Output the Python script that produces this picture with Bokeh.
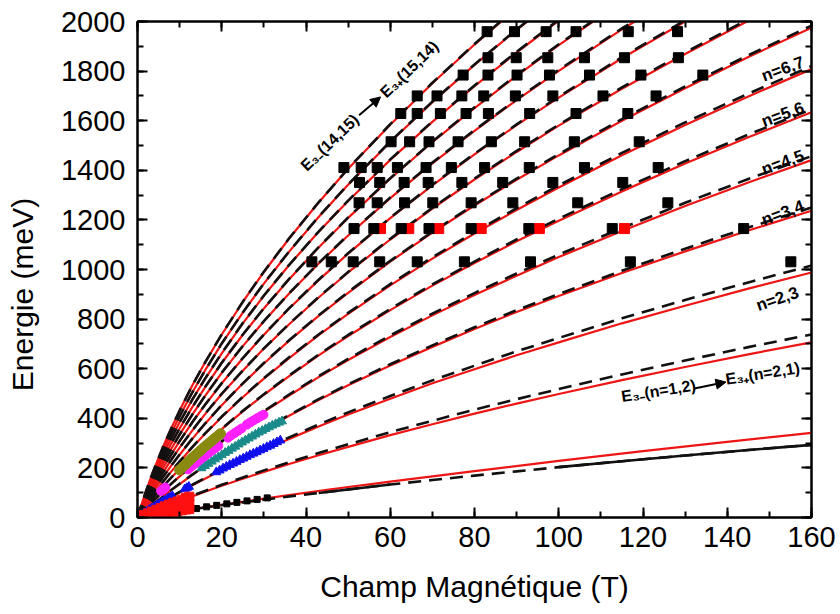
from bokeh.plotting import figure
from bokeh.models import Range1d, LinearAxis, SingleIntervalTicker, Label, Arrow, NormalHead
from bokeh.embed import file_html
from bokeh.resources import INLINE

# ---------------- data ----------------
B_GRID = [0, 0.5, 1, 2, 3, 4, 6, 8, 10, 13, 16, 20, 25, 30, 36, 43, 50, 60, 70, 80, 90, 100, 115, 130, 145, 160]

# black dashed curves, transitions (n, n+1)
dash_01 = [0, 1, 3, 5, 8, 10, 16, 21, 26, 33, 40, 50, 61, 72, 85, 99, 113, 133, 151, 169, 186, 203, 227, 250, 272, 293]
dash_12 = [0, 4, 7, 14, 21, 28, 42, 56, 69, 88, 107, 132, 161, 190, 223, 260, 295, 344, 390, 435, 477, 518, 577, 633, 687, 738]
dash_23 = [0, 6, 11, 22, 33, 43, 64, 84, 103, 132, 159, 195, 237, 277, 323, 375, 424, 490, 553, 612, 670, 724, 803, 877, 948, 1016]
dash_34 = [0, 7, 15, 29, 43, 57, 84, 111, 136, 173, 208, 252, 305, 356, 413, 477, 537, 618, 694, 767, 836, 901, 995, 1084, 1169, 1250]
dash_45 = [0, 9, 18, 37, 54, 71, 104, 136, 167, 211, 253, 307, 370, 429, 496, 570, 640, 734, 822, 905, 984, 1060, 1167, 1269, 1365, 1457]
dash_56 = [0, 11, 22, 44, 65, 85, 124, 161, 197, 248, 297, 358, 430, 497, 573, 657, 736, 841, 940, 1032, 1121, 1205, 1324, 1437, 1544, 1646]
dash_67 = [0, 13, 26, 51, 75, 98, 143, 186, 226, 284, 338, 407, 487, 562, 646, 738, 825, 941, 1049, 1151, 1247, 1339, 1470, 1593, 1709, 1820]
dash_78 = [0, 15, 29, 58, 85, 111, 162, 209, 254, 318, 378, 454, 541, 623, 715, 815, 909, 1035, 1152, 1262, 1366, 1465, 1606, 1738, 1864, 1983]
dash_89 = [0, 17, 33, 65, 95, 124, 180, 232, 282, 351, 417, 499, 593, 682, 781, 889, 990, 1124, 1249, 1367, 1478, 1584, 1734, 1875, 2009]
dash_910 = [0, 19, 37, 72, 105, 137, 198, 254, 308, 384, 454, 542, 643, 738, 844, 959, 1066, 1209, 1342, 1467, 1585, 1697, 1856, 2005]
dash_1011 = [0, 20, 40, 78, 115, 150, 215, 276, 334, 415, 490, 584, 692, 792, 904, 1026, 1139, 1290, 1431, 1562, 1686, 1805, 1972, 2129]
dash_1112 = [0, 22, 44, 85, 124, 162, 232, 298, 359, 445, 525, 624, 738, 844, 962, 1090, 1210, 1368, 1516, 1654, 1784, 1908, 2083]
dash_1213 = [0, 24, 47, 92, 134, 174, 249, 319, 384, 475, 559, 663, 784, 895, 1019, 1153, 1278, 1444, 1597, 1742, 1878, 2007]
dash_1314 = [0, 26, 51, 98, 143, 186, 266, 339, 408, 504, 592, 702, 827, 944, 1073, 1213, 1343, 1516, 1677, 1827, 1968, 2103]
dash_1415 = [0, 28, 54, 105, 153, 198, 282, 359, 431, 532, 624, 739, 870, 991, 1126, 1271, 1407, 1586, 1753, 1909, 2056]

# red solid curves
red01_B = [0, 2, 5, 10, 15, 20, 30, 45, 60, 80, 100, 120, 140, 160]
red_01 = [0, 5, 13, 26, 39, 51, 76, 112, 145, 187, 228, 268, 305, 341]
red_12 = [0, 4, 7, 14, 20, 27, 41, 54, 67, 85, 104, 128, 156, 184, 216, 251, 285, 332, 376, 419, 459, 498, 554, 607, 658, 706]
red_23 = [0, 6, 11, 22, 32, 42, 63, 83, 101, 130, 156, 191, 233, 272, 317, 367, 415, 479, 541, 598, 654, 706, 783, 854, 923, 988]
red_34 = [0, 7, 15, 29, 43, 57, 84, 110, 135, 172, 207, 250, 303, 354, 410, 474, 533, 613, 688, 760, 829, 893, 986, 1073, 1157, 1237]
red_45 = [0, 9, 18, 37, 54, 71, 103, 135, 166, 210, 251, 305, 368, 426, 492, 566, 635, 728, 815, 897, 975, 1050, 1155, 1256, 1351, 1441]
red_56 = [0, 11, 22, 44, 65, 85, 124, 160, 196, 247, 296, 356, 428, 495, 570, 654, 732, 836, 935, 1026, 1114, 1197, 1315, 1427, 1533, 1634]
red_67 = [0, 13, 26, 51, 75, 98, 143, 185, 225, 283, 337, 405, 485, 560, 643, 735, 821, 936, 1044, 1145, 1240, 1331, 1461, 1583, 1698, 1808]
red_78 = [0, 15, 29, 58, 85, 111, 162, 209, 253, 317, 377, 453, 540, 621, 713, 813, 906, 1032, 1149, 1258, 1362, 1460, 1600, 1731, 1857, 1975]
red_89 = [0, 17, 33, 65, 95, 124, 180, 232, 282, 350, 416, 498, 592, 681, 779, 887, 988, 1121, 1246, 1363, 1474, 1580, 1729, 1869, 2003]
red_910 = [0, 19, 37, 72, 105, 137, 198, 254, 308, 384, 453, 541, 642, 737, 843, 957, 1064, 1207, 1339, 1464, 1582, 1693, 1852, 2000]
red_1011 = [0, 20, 40, 78, 115, 150, 215, 276, 334, 415, 489, 583, 691, 791, 903, 1024, 1137, 1288, 1428, 1559, 1683, 1801, 1968, 2124]
red_1112 = [0, 22, 44, 85, 124, 162, 232, 298, 359, 445, 524, 623, 737, 843, 961, 1089, 1208, 1366, 1514, 1651, 1781, 1905, 2079]
red_1213 = [0, 24, 47, 92, 134, 174, 249, 319, 384, 475, 558, 662, 783, 894, 1018, 1152, 1276, 1442, 1595, 1739, 1875, 2004]
red_1314 = [0, 26, 51, 98, 143, 186, 266, 339, 408, 504, 592, 701, 826, 943, 1072, 1212, 1342, 1514, 1675, 1825, 1966, 2100]
red_1415 = [0, 28, 54, 105, 153, 198, 282, 359, 431, 532, 624, 738, 869, 990, 1125, 1270, 1406, 1584, 1751, 1907, 2054]

# large black squares (measured transitions)
sq_B = [83.0, 89.5, 97.0, 104.1, 116.5, 128.2,
        83.2, 89.9, 97.4, 106.1, 115.6, 128.4,
        77.3, 83.2, 90.1, 97.8, 107.3, 119.5, 134.2,
        66.4, 71.1, 77.0, 82.2, 89.7, 98.6, 110.5, 123.1,
        62.5, 66.4, 71.9, 78.0, 83.3, 93.1, 104.1, 116.4,
        60.2, 64.6, 69.2, 76.1, 84.0, 91.9, 103.7, 119.1,
        49.0, 53.1, 56.9, 61.7, 68.5, 74.5, 82.4, 93.0, 106.1, 123.6,
        52.7, 57.5, 63.3, 69.0, 77.0, 86.7, 98.6, 115.2,
        52.6, 56.9, 63.4, 70.1, 79.2, 89.1, 104.5, 125.9,
        51.4, 56.1, 62.6, 69.2, 79.2, 92.9, 112.7, 143.9,
        41.4, 46.0, 51.2, 57.5, 66.4, 77.6, 93.3, 117.0, 155.1]
sq_E = [1959] * 6 + [1854] * 6 + [1784] * 7 + [1700] * 8 + [1629] * 8 + [1515] * 8 + \
       [1411] * 10 + [1351] * 8 + [1269] * 8 + [1165] * 8 + [1031] * 9
# red squares
rsq_B = [57.7, 64.4, 71.5, 81.6, 95.4, 115.6]
rsq_E = [1165, 1165, 1165, 1165, 1165, 1165]

# low-field traces
olive_B = [10.0, 10.7, 11.4, 12.1, 12.8, 13.5, 14.2, 14.9, 15.6, 16.3, 17.0, 17.7, 18.4, 19.1, 19.7]
olive_E = [192, 203, 214, 226, 237, 248, 259, 269, 280, 290, 300, 310, 320, 330, 338]
mag_B = [5.6, 6.1, 6.6, 12.0, 12.8, 13.6, 14.4, 15.2, 16.0, 16.8, 17.6, 18.4, 19.2,
         21.5, 22.3, 23.1, 23.9, 24.7, 26.0, 26.8, 27.6, 28.4, 29.2, 29.9]
mag_E = [107, 114, 121, 194, 205, 216, 227, 238, 248, 259, 269, 279, 289,
         322, 332, 341, 350, 359, 375, 384, 392, 400, 408, 414]
teal_B = [15.2, 16.0, 16.8, 17.6, 18.4, 19.2, 20.0, 20.8, 21.6, 22.4, 23.2, 24.0, 24.8,
          25.6, 26.4, 27.2, 28.0, 28.8, 29.6, 30.4, 31.2, 32.0, 32.8, 33.6, 34.3]
teal_E = [199, 208, 217, 226, 235, 243, 252, 261, 269, 278, 286, 295, 303,
          311, 319, 327, 335, 343, 350, 357, 364, 371, 377, 383, 388]
blue_B = [1.0, 1.6, 2.2, 2.8, 3.4, 4.0, 4.6, 5.2, 5.8, 6.4, 7.0, 7.4, 7.8, 8.3, 11.2, 11.7, 12.2,
          18.7, 19.5, 20.3, 21.1, 21.9, 22.7, 23.5, 24.3, 25.1, 25.9, 26.7, 27.5, 28.3,
          29.1, 29.9, 30.7, 31.5, 32.3, 33.1, 33.9]
blue_E = [11, 18, 24, 31, 37, 43, 50, 56, 62, 68, 74, 78, 81, 86, 114, 119, 124,
          183, 190, 198, 205, 212, 218, 225, 232, 238, 245, 252, 258, 264,
          271, 277, 284, 290, 297, 304, 311]
redpt_B = [1.5, 2.5, 3.5, 4.5, 5.5, 6.5, 7.5, 8.5, 9.5, 10.5, 11.5, 12.3,
           1.5, 2.5, 3.5, 4.5, 5.5, 6.5, 7.5, 8.5, 9.5, 10.5, 11.5, 12.3,
           1.5, 2.5, 3.5, 4.5, 5.5, 6.5, 7.5, 8.5, 9.5, 10.5, 11.5, 12.3]
redpt_E = [10, 17, 24, 31, 38, 45, 52, 59, 65, 72, 79, 84,
           7, 11, 16, 20, 25, 29, 34, 38, 43, 47, 52, 55,
           4, 7, 10, 13, 15, 18, 21, 24, 27, 29, 32, 34]
blk_B = [2, 4.4, 6.8, 9.2, 11.6, 14, 16.4, 18.8, 21.2, 23.6, 26, 28.4, 30.8]
blk_E = [5, 11, 18, 24, 30, 36, 43, 49, 55, 61, 67, 73, 79]

# ---------------- figure ----------------
FONT = "Liberation Sans"
RED = "#ee1515"

p = figure(width=840, height=614, x_range=Range1d(0, 160), y_range=Range1d(0, 2000),
           output_backend="svg", toolbar_location=None,
           min_border_left=137, min_border_right=29, min_border_top=21, min_border_bottom=97,
           background_fill_color="white", border_fill_color="white")
p.grid.visible = False
p.outline_line_color = "black"
p.outline_line_width = 2

xt = SingleIntervalTicker(interval=20, num_minor_ticks=2)
yt = SingleIntervalTicker(interval=200, num_minor_ticks=2)
p.xaxis.ticker = xt
p.yaxis.ticker = yt


def style_axis(ax, labels=True):
    ax.axis_line_width = 2
    ax.axis_line_color = "black"
    ax.major_tick_in = 10
    ax.major_tick_out = 0
    ax.minor_tick_in = 6
    ax.minor_tick_out = 0
    ax.major_tick_line_width = 2
    ax.minor_tick_line_width = 2
    ax.major_tick_line_color = "black"
    ax.minor_tick_line_color = "black"
    if labels:
        ax.major_label_text_font = FONT
        ax.major_label_text_font_size = "29px"
        ax.major_label_text_color = "black"
        ax.axis_label_text_font = FONT
        ax.axis_label_text_font_size = "30px"
        ax.axis_label_text_font_style = "normal"
        ax.axis_label_text_color = "black"
    else:
        ax.major_label_text_font_size = "0px"
        ax.major_label_text_color = None
        ax.major_label_standoff = 0


for ax in p.xaxis:
    style_axis(ax)
    ax.major_label_standoff = 9
    ax.axis_label = "Champ Magnétique (T)"
    ax.axis_label_standoff = 20
for ax in p.yaxis:
    style_axis(ax)
    ax.major_label_standoff = 12
    ax.axis_label = "Energie (meV)" + "\u00a0" * 6
    ax.axis_label_standoff = 19

top_ax = LinearAxis(ticker=xt)
style_axis(top_ax, labels=False)
p.add_layout(top_ax, "above")
right_ax = LinearAxis(ticker=yt)
style_axis(right_ax, labels=False)
p.add_layout(right_ax, "right")

# red solid curves
p.line(red01_B, red_01, line_color=RED, line_width=2.2)
for arr in [red_12, red_23, red_34, red_45, red_56, red_67, red_78, red_89,
            red_910, red_1011, red_1112, red_1213, red_1314, red_1415]:
    p.line(B_GRID[:len(arr)], arr, line_color=RED, line_width=2.2)

# black dashed curves
for arr in [dash_01, dash_12, dash_23, dash_34, dash_45, dash_56, dash_67, dash_78, dash_89,
            dash_910, dash_1011, dash_1112, dash_1213, dash_1314, dash_1415]:
    p.line(B_GRID[:len(arr)], arr, line_color="#111111", line_width=2.6, line_dash="13 8")
# solid portions of the lowest black curve
p.line(B_GRID[15:18], dash_01[15:18], line_color="#111111", line_width=2.6)
p.line(B_GRID[21:], dash_01[21:], line_color="#111111", line_width=2.6)

# low-field traces
p.scatter(blk_B, blk_E, marker="square", size=6, color="black")
p.scatter(blue_B, blue_E, marker="triangle", size=9, color="#1010ee")
p.scatter(redpt_B, redpt_E, marker="square", size=9, color="#ff1010")
p.scatter(teal_B, teal_E, marker="triangle", size=9, color="#1a8a8a")
p.scatter(mag_B, mag_E, marker="circle", size=9, color="#ff20ff")
p.scatter(olive_B, olive_E, marker="circle", size=10, color="#8a8a10")

# squares
p.scatter(rsq_B, rsq_E, marker="square", size=10, color="#ff0000")
p.scatter(sq_B, sq_E, marker="square", size=10, color="black")


def lab(x, y, text, angle, size="17px"):
    p.add_layout(Label(x=x, y=y, text=text, angle=angle, angle_units="deg",
                       text_align="center", text_baseline="middle", text_font=FONT,
                       text_font_size=size, text_font_style="bold", text_color="black"))


lab(153.2, 1808, "n=6,7", 20)
lab(153.2, 1625, "n=5,6", 20)
lab(153.2, 1431, "n=4,5", 20)
lab(153.2, 1228, "n=3,4", 20)
lab(151.9, 881, "n=2,3", 19)
lab(123.7, 511, "E\u2083\u208b(n=1,2)", 9, "16px")
lab(148.4, 581, "E\u2083\u208a(n=2,1)", 9, "16px")
lab(45.6, 1512, "E\u2083\u208b(14,15)", 44, "16px")
lab(64.5, 1808, "E\u2083\u208a(15,14)", 44, "16px")

p.add_layout(Arrow(end=NormalHead(size=10, fill_color="black", line_color="black"),
                   x_start=132.2, y_start=520, x_end=139.7, y_end=546,
                   line_width=2, line_color="black"))
p.add_layout(Arrow(end=NormalHead(size=10, fill_color="black", line_color="black"),
                   x_start=52.6, y_start=1622, x_end=57.7, y_end=1696,
                   line_width=2, line_color="black"))

open("out.html", "w").write(file_html(p, INLINE))
